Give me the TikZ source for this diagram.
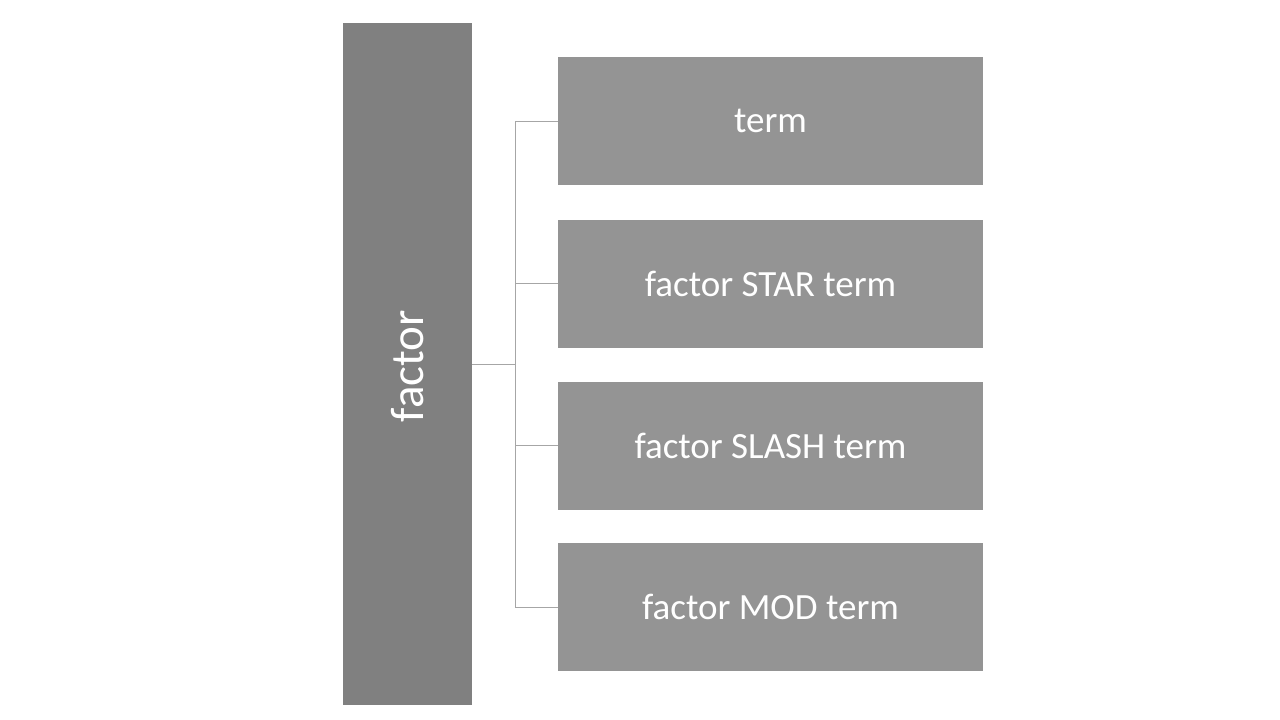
\documentclass[tikz,border=0pt]{standalone}
\usepackage{fontspec}
\setmainfont{Carlito}
\definecolor{barfill}{HTML}{808080}
\definecolor{boxfill}{HTML}{949494}
\definecolor{linecol}{HTML}{A6A6A6}
\begin{document}
\begin{tikzpicture}[x=1pt,y=-1pt,
  bar/.style={fill=barfill,draw=none,minimum width=129pt,minimum height=682pt,inner sep=0pt},
  item/.style={fill=boxfill,draw=none,minimum width=425pt,minimum height=128pt,inner sep=0pt,text=white,font=\fontsize{37}{44}\selectfont},
  conn/.style={draw=linecol,line width=1pt}]
\useasboundingbox (0,0) rectangle (1280,720);
\node[bar] (root) at (407.5,364) {};
\node[rotate=90,text=white,font=\fontsize{47}{56}\selectfont] (rootlabel) at (407.5,366) {factor};
\node[item] (t1) at (770.5,121) {term};
\node[item] (t2) at (770.5,283.5) {factor STAR term};
\node[item] (t3) at (770.5,445.5) {factor SLASH term};
\node[item] (t4) at (770.5,607) {factor MOD term};
\coordinate (j) at (515,364);
\draw[conn] (root.east) -- (j);
\draw[conn] (j) |- (t1.west);
\draw[conn] (j) |- (t2.west);
\draw[conn] (j) |- (t3.west);
\draw[conn] (j) |- (t4.west);
\end{tikzpicture}
\end{document}
